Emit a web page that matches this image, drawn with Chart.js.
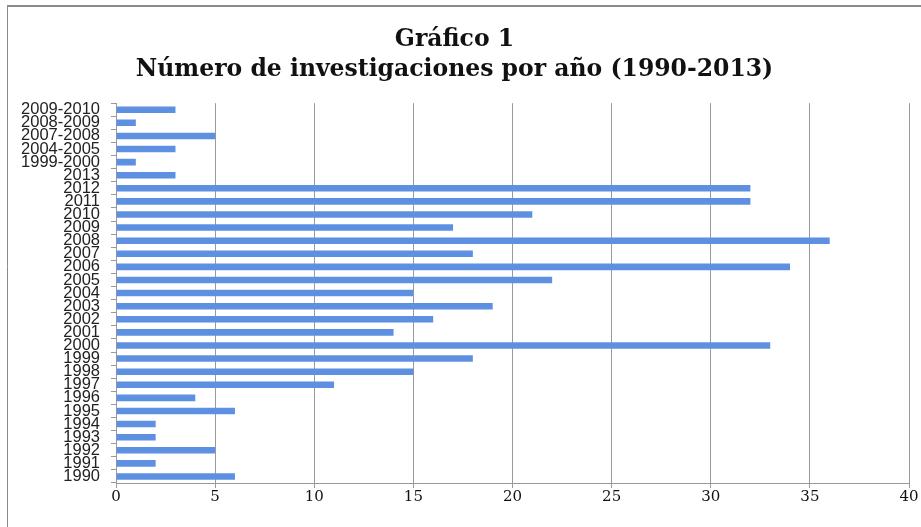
<!DOCTYPE html>
<html>
<head>
<meta charset="utf-8">
<script src="https://cdn.jsdelivr.net/npm/chart.js@4"></script>
<style>
  html, body { margin: 0; padding: 0; background: #fff; }
  canvas { display: block; }
</style>
</head>
<body>
<canvas id="chart" width="921" height="527"></canvas>
<script>
// Categories from top to bottom, as they appear in the chart
const categories = [
  '2009-2010', '2008-2009', '2007-2008', '2004-2005', '1999-2000',
  '2013', '2012', '2011', '2010', '2009', '2008', '2007', '2006', '2005',
  '2004', '2003', '2002', '2001', '2000', '1999', '1998', '1997', '1996',
  '1995', '1994', '1993', '1992', '1991', '1990'
];
const investigaciones = [
  3, 1, 5, 3, 1,
  3, 32, 32, 21, 17, 36, 18, 34, 22,
  15, 19, 16, 14, 33, 18, 15, 11, 4,
  6, 2, 2, 5, 2, 6
];
const titleLines = ['Gráfico 1', 'Número de investigaciones por año (1990-2013)'];

// thin grey frame on top and left, like the pasted office chart
const framePlugin = {
  id: 'frame',
  beforeDraw(chart) {
    const ctx = chart.ctx;
    ctx.save();
    ctx.strokeStyle = '#8a8a8a';
    ctx.lineWidth = 2;
    ctx.beginPath();
    ctx.moveTo(7, 6);
    ctx.lineTo(chart.width, 6);
    ctx.stroke();
    ctx.lineWidth = 1;
    ctx.beginPath();
    ctx.moveTo(7.5, 6);
    ctx.lineTo(7.5, chart.height);
    ctx.stroke();
    ctx.restore();
  }
};

const ctx = document.getElementById('chart').getContext('2d');
new Chart(ctx, {
  type: 'bar',
  data: {
    labels: categories,
    datasets: [{
      label: 'Investigaciones',
      data: investigaciones,
      backgroundColor: '#5e90e2',
      borderWidth: 0,
      barPercentage: 0.5,
      categoryPercentage: 1
    }]
  },
  options: {
    indexAxis: 'y',
    responsive: false,
    animation: false,
    layout: { padding: { left: 0, right: 12, top: 0, bottom: 0 } },
    plugins: {
      legend: { display: false },
      tooltip: { enabled: false },
      title: {
        display: true,
        text: titleLines,
        color: '#111',
        font: { family: 'DejaVu Serif', size: 23.5, weight: 'bold', lineHeight: 1.28 },
        padding: { top: 25, bottom: 18 }
      }
    },
    scales: {
      x: {
        min: 0,
        max: 40,
        ticks: {
          stepSize: 5,
          color: '#111',
          font: { family: 'DejaVu Serif', size: 15 },
          padding: 0
        },
        grid: {
          color: '#9a9a9a',
          tickLength: 5
        },
        border: { color: '#9a9a9a' },
        afterFit(scale) { scale.height = 44; }
      },
      y: {
        ticks: {
          autoSkip: false,
          color: '#222',
          font: { family: 'Liberation Sans', size: 16.5 },
          padding: 11
        },
        grid: {
          offset: true,
          drawOnChartArea: false,
          color: '#9a9a9a',
          tickLength: 5
        },
        border: { color: '#9a9a9a' },
        afterFit(scale) { scale.width = 116; }
      }
    }
  },
  plugins: [framePlugin]
});
</script>
</body>
</html>
